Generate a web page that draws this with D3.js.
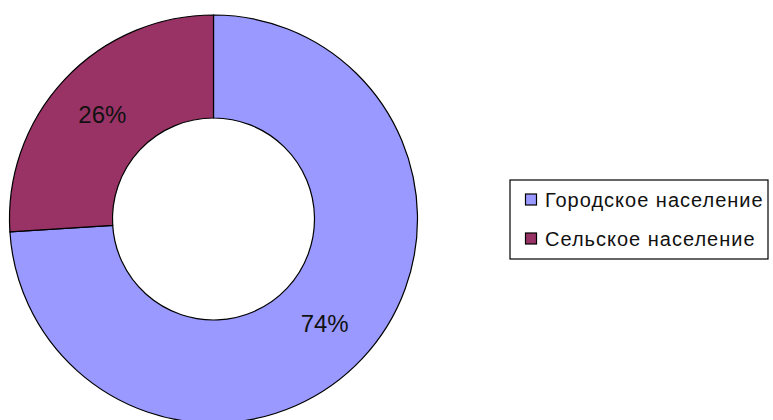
<!DOCTYPE html>
<html>
<head>
<meta charset="utf-8">
<script src="https://cdn.jsdelivr.net/npm/d3@7"></script>
<style>
  body { margin: 0; background: #fff; }
  svg { display: block; }
</style>
</head>
<body>
<svg width="773" height="420"></svg>
<script>
const categories = ["Городское население", "Сельское население"];
const values = [74, 26];
const colors = ["#9999ff", "#993366"];

const svg = d3.select("svg");

const cx = 213.5, cy = 219,
      outerR = 204, innerR = 101;

const pie = d3.pie().sort(null).value(d => d.value);
const data = pie(categories.map((c, i) => ({name: c, value: values[i]})));

const arc = d3.arc().innerRadius(innerR).outerRadius(outerR);
const labelArc = d3.arc().innerRadius((innerR + outerR) / 2).outerRadius((innerR + outerR) / 2);

const color = d3.scaleOrdinal().domain(categories).range(colors);

const g = svg.append("g")
    .attr("transform", `translate(${cx},${cy})`);

g.selectAll(".slice")
    .data(data)
    .enter().append("path")
    .attr("class", "slice")
    .attr("d", arc)
    .attr("fill", d => color(d.data.name))
    .attr("stroke", "#000")
    .attr("stroke-width", 1.2);

const total = d3.sum(values);
g.selectAll(".label")
    .data(data)
    .enter().append("text")
    .attr("class", "label")
    .attr("transform", d => `translate(${labelArc.centroid(d)})`)
    .attr("text-anchor", "middle")
    .attr("dy", "0.36em")
    .attr("font-family", "Liberation Sans, Arial, sans-serif")
    .attr("font-size", 24)
    .attr("fill", "#111")
    .text(d => Math.round(d.data.value / total * 100) + "%");

// legend
const legend = svg.append("g").attr("transform", "translate(510,180)");

legend.append("rect")
    .attr("width", 258)
    .attr("height", 79)
    .attr("fill", "#fff")
    .attr("stroke", "#000")
    .attr("stroke-width", 1.2);

const rows = legend.selectAll(".row")
    .data(categories)
    .enter().append("g")
    .attr("class", "row")
    .attr("transform", (d, i) => `translate(15,${20 + i * 39})`);

rows.append("rect")
    .attr("x", 0.5)
    .attr("y", -6)
    .attr("width", 11)
    .attr("height", 11)
    .attr("fill", d => color(d))
    .attr("stroke", "#000")
    .attr("stroke-width", 1.2);

rows.append("text")
    .attr("x", 20)
    .attr("dy", "0.36em")
    .attr("font-family", "Liberation Sans, Arial, sans-serif")
    .attr("font-size", 20)
    .attr("letter-spacing", 1)
    .attr("fill", "#111")
    .text(d => d);
</script>
</body>
</html>
